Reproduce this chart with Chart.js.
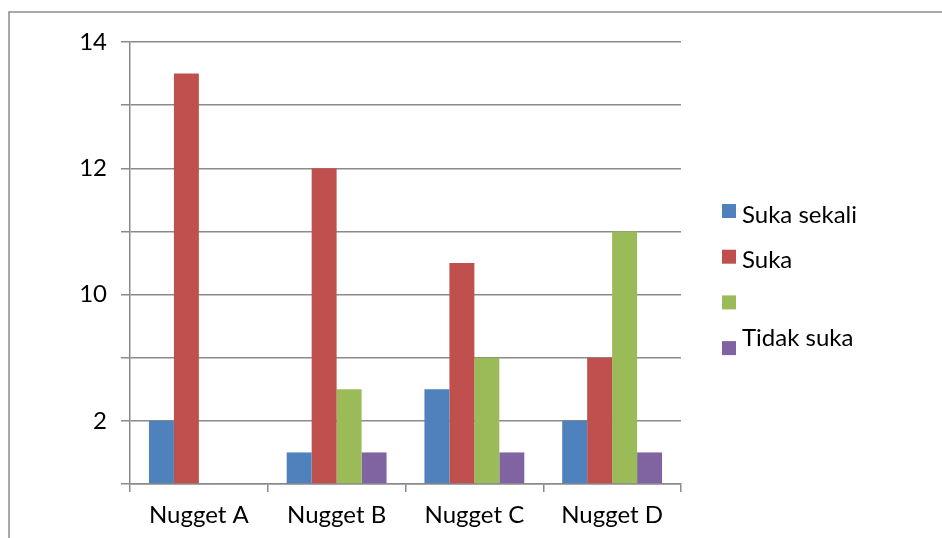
<!DOCTYPE html>
<html>
<head>
<meta charset="utf-8">
<title>Nugget</title>
<script src="https://cdn.jsdelivr.net/npm/chart.js@4/dist/chart.umd.min.js"></script>
<style>
  html, body { margin: 0; padding: 0; background: #ffffff; }
  #wrap { position: relative; width: 942px; height: 538px; }
</style>
</head>
<body>
<div id="wrap"><canvas id="c" width="942" height="538"></canvas></div>
<script>
// Categories and series values
const categories = ['Nugget A', 'Nugget B', 'Nugget C', 'Nugget D'];
const sukaSekali = [2, 1, 3, 2];
const suka = [13, 10, 7, 4];
const tanpaNama = [0, 3, 4, 8];
const tidakSuka = [0, 1, 1, 1];
const seriesNames = ['Suka sekali', 'Suka', '', ['Tidak suka', '']];

// Y tick labels, one per gridline (0, 2, 4, ... 14)
const yTickLabels = ['', '2', '', '10', '', '12', '', '14'];

const FONT = 'Lato, "Open Sans", sans-serif';
const FONT_SIZE = 24;
const GRID = '#8a8a8a';

// Outer frame and right-hand legend
const framePlugin = {
  id: 'frame',
  beforeDraw(chart) {
    const ctx = chart.ctx;
    ctx.save();
    ctx.strokeStyle = '#8c8c8c';
    ctx.lineWidth = 1.5;
    ctx.beginPath();
    ctx.moveTo(9, chart.height);
    ctx.lineTo(9, 12);
    ctx.lineTo(chart.width, 12);
    ctx.stroke();
    ctx.restore();
  }
};

const legendPlugin = {
  id: 'sideLegend',
  afterDraw(chart) {
    const ctx = chart.ctx;
    const area = chart.chartArea;
    const x0 = area.right + 41;
    const firstY = 211;
    const step = 45.7;
    const box = 14;
    const lineH = 28;
    ctx.save();
    ctx.font = FONT_SIZE + 'px ' + FONT;
    ctx.textBaseline = 'middle';
    ctx.textAlign = 'left';
    chart.data.datasets.forEach((ds, i) => {
      const cy = firstY + i * step;
      ctx.fillStyle = ds.backgroundColor;
      ctx.fillRect(x0, cy - box / 2, box, box);
      const lines = Array.isArray(ds.label) ? ds.label : [ds.label];
      const top = cy - (lines.length - 1) * lineH / 2;
      ctx.fillStyle = '#000000';
      lines.forEach((t, k) => {
        ctx.fillText(t, x0 + box + 6, top + k * lineH + 4);
      });
    });
    ctx.restore();
  }
};

function build() {
  new Chart(document.getElementById('c'), {
    type: 'bar',
    data: {
      labels: categories,
      datasets: [
        { label: seriesNames[0], data: sukaSekali, backgroundColor: '#4f81bd' },
        { label: seriesNames[1], data: suka, backgroundColor: '#c0504d' },
        { label: seriesNames[2], data: tanpaNama, backgroundColor: '#9bbb59' },
        { label: seriesNames[3], data: tidakSuka, backgroundColor: '#8064a2' }
      ]
    },
    options: {
      responsive: false,
      animation: false,
      devicePixelRatio: 1,
      layout: { padding: { left: 20, right: 261, top: 42, bottom: 0 } },
      datasets: { bar: { categoryPercentage: 0.725, barPercentage: 1, borderWidth: 0 } },
      plugins: { legend: { display: false }, tooltip: { enabled: false } },
      scales: {
        x: {
          grid: { display: true, drawOnChartArea: false, drawTicks: true, tickLength: 8, color: GRID, lineWidth: 1.5, offset: true },
          border: { display: true, color: GRID, width: 1.5 },
          ticks: { color: '#000000', font: { family: FONT, size: FONT_SIZE }, padding: 9, maxRotation: 0 },
          afterFit(scale) { scale.height = 54; }
        },
        y: {
          min: 0,
          max: 14,
          grid: { color: GRID, lineWidth: 1.5, drawTicks: true, tickLength: 9 },
          border: { display: true, color: GRID, width: 1.5 },
          ticks: {
            stepSize: 2,
            color: '#000000',
            font: { family: FONT, size: FONT_SIZE },
            padding: 14,
            callback: (v) => yTickLabels[Math.round(v / 2)]
          },
          afterFit(scale) { scale.width = 110; }
        }
      }
    },
    plugins: [framePlugin, legendPlugin]
  });
}

if (document.fonts && document.fonts.load) {
  document.fonts.load(FONT_SIZE + 'px Lato').then(build, build);
} else {
  build();
}
</script>
</body>
</html>
